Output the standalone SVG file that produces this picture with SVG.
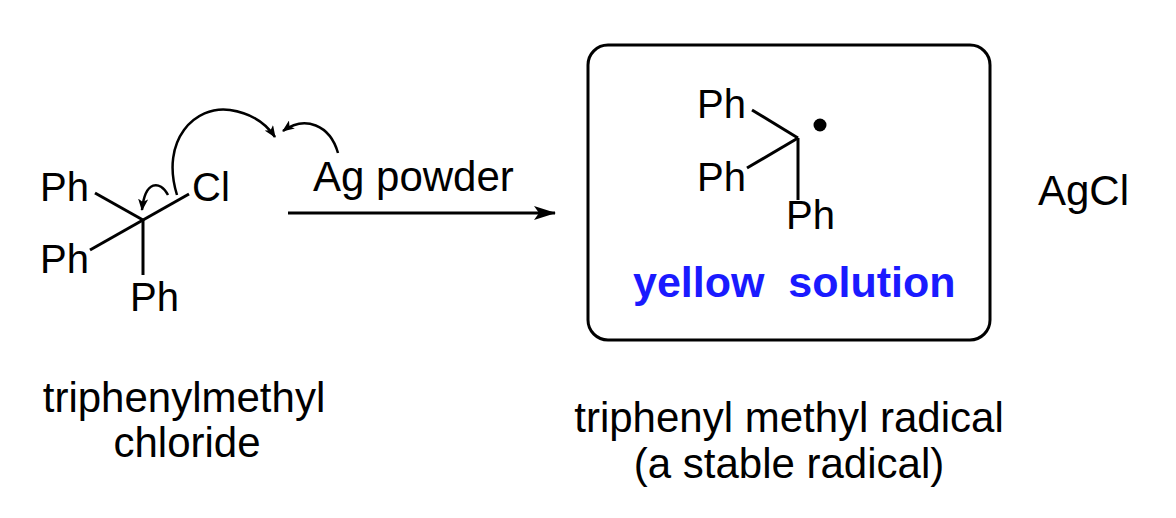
<svg xmlns="http://www.w3.org/2000/svg" width="1176" height="518" viewBox="0 0 1176 518">
<defs>
<style>
text{font-family:"Liberation Sans",Arial,sans-serif;font-size:40px;fill:#000}
.l{font-size:42px}
.b{stroke:#000;stroke-width:3;fill:none}
.c{stroke:#000;stroke-width:2.5;fill:none}
.m{text-anchor:middle}
.y{fill:#1a1aff;font-weight:bold;font-size:43px}
</style>
<marker id="ah" viewBox="0 0 12 10" refX="11" refY="5" markerWidth="12" markerHeight="10" markerUnits="userSpaceOnUse" orient="auto"><path d="M0,0 L12,5 L0,10 L3,5 Z" fill="#000"/></marker>
<marker id="ra" viewBox="0 0 22 14" refX="21" refY="7" markerWidth="22" markerHeight="14" markerUnits="userSpaceOnUse" orient="auto"><path d="M0,0 L22,7 L0,14 L5,7 Z" fill="#000"/></marker>
</defs>
<g id="reactant">
<line class="b" x1="143" y1="220" x2="95" y2="193"/>
<line class="b" x1="143" y1="220" x2="90" y2="250"/>
<line class="b" x1="143" y1="220" x2="143" y2="275"/>
<line class="b" x1="143" y1="220" x2="189" y2="194"/>
<text x="40" y="201">Ph</text>
<text x="40" y="273">Ph</text>
<text x="130" y="311">Ph</text>
<text x="192" y="201">Cl</text>
<text class="m l" x="184" y="412">triphenylmethyl</text>
<text class="m l" x="187" y="457">chloride</text>
</g>
<g id="connectors">
<path class="c" d="M177,195 C160,140 195,105 230,110 C250,113 265,122 275,137" marker-end="url(#ah)"/>
<path class="c" d="M168,195 C160,180 145,180 142,210" marker-end="url(#ah)"/>
<path class="c" d="M338,153 C330,125 305,115 283,131" marker-end="url(#ah)"/>
<line class="b" x1="288" y1="213" x2="555" y2="213" marker-end="url(#ra)"/>
</g>
<g id="reagent"><text class="l" x="313" y="191">Ag powder</text></g>
<g id="product">
<rect x="588" y="45" width="402" height="295" rx="20" fill="none" stroke="#000" stroke-width="3"/>
<line class="b" x1="798" y1="138" x2="752" y2="110"/>
<line class="b" x1="798" y1="138" x2="747" y2="168"/>
<line class="b" x1="798" y1="138" x2="798" y2="200"/>
<circle cx="820" cy="125" r="6.5" fill="#000"/>
<text x="697" y="118">Ph</text>
<text x="697" y="191">Ph</text>
<text x="786" y="229">Ph</text>
<text class="y" x="633" y="297" xml:space="preserve">yellow  solution</text>
<text class="m l" x="789" y="432">triphenyl methyl radical</text>
<text class="m l" x="789" y="478">(a stable radical)</text>
</g>
<g id="byproduct"><text class="l" x="1038" y="205">AgCl</text></g>
</svg>
